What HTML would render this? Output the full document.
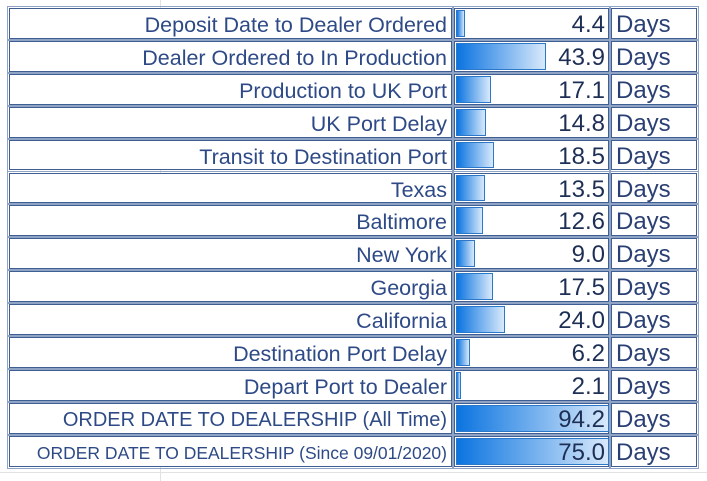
<!DOCTYPE html>
<html><head><style>
body{margin:0;width:707px;height:481px;background:#fff;position:relative;overflow:hidden;font-family:"Liberation Sans",sans-serif}
.g{position:absolute;background:#e2e2e2}
.c{position:absolute;box-sizing:border-box;border:1px solid #3f5f94;outline:1px solid #8fa3c4;outline-offset:1px;background:#fff}
.l{text-align:right;color:#2e4a86;font-size:21.5px;padding-right:4px;white-space:nowrap;padding-top:2px}
.v{text-align:right;color:#1e2f55;font-size:24px;padding-right:3px;padding-top:1px}
.d{color:#2a3f73;font-size:24px;padding-left:4px;padding-top:1px}
.b{position:absolute;left:1px;top:1px;bottom:1px;background:linear-gradient(to right,#0b74e0,#d8e9fb);border:1px solid #2b77c8;box-sizing:border-box}
span{position:relative}
</style></head><body>
<div class="g" style="left:160px;top:0;width:1px;height:481px"></div>
<div class="g" style="left:0;top:472px;width:707px;height:1px"></div>
<script>
const rows=[["Deposit Date to Dealer Ordered","4.4",9],["Dealer Ordered to In Production","43.9",90],["Production to UK Port","17.1",35],["UK Port Delay","14.8",30],["Transit to Destination Port","18.5",38],["Texas","13.5",29],["Baltimore","12.6",27],["New York","9.0",19],["Georgia","17.5",37],["California","24.0",49],["Destination Port Delay","6.2",14],["Depart Port to Dealer","2.1",5],["ORDER DATE TO DEALERSHIP (All Time)","94.2",153],["ORDER DATE TO DEALERSHIP (Since 09/01/2020)","75.0",153]];
let h='';const H=32.9;
rows.forEach((r,i)=>{const y=8+i*H;const hh=H-2;
const fs=i==13?'font-size:17.5px;':(i==12?'font-size:20px;':'');
h+=`<div class="c l" style="left:9px;top:${y}px;width:443px;height:${hh}px;line-height:${hh-2}px;${fs}">${r[0]}</div>`;
h+=`<div class="c v" style="left:454px;top:${y}px;width:155px;height:${hh}px;line-height:${hh-1}px"><div class="b" style="width:${r[2]}px"></div><span>${r[1]}</span></div>`;
h+=`<div class="c d" style="left:611px;top:${y}px;width:86px;height:${hh}px;line-height:${hh-1}px">Days</div>`;});
document.write(h);
</script>
</body></html>
